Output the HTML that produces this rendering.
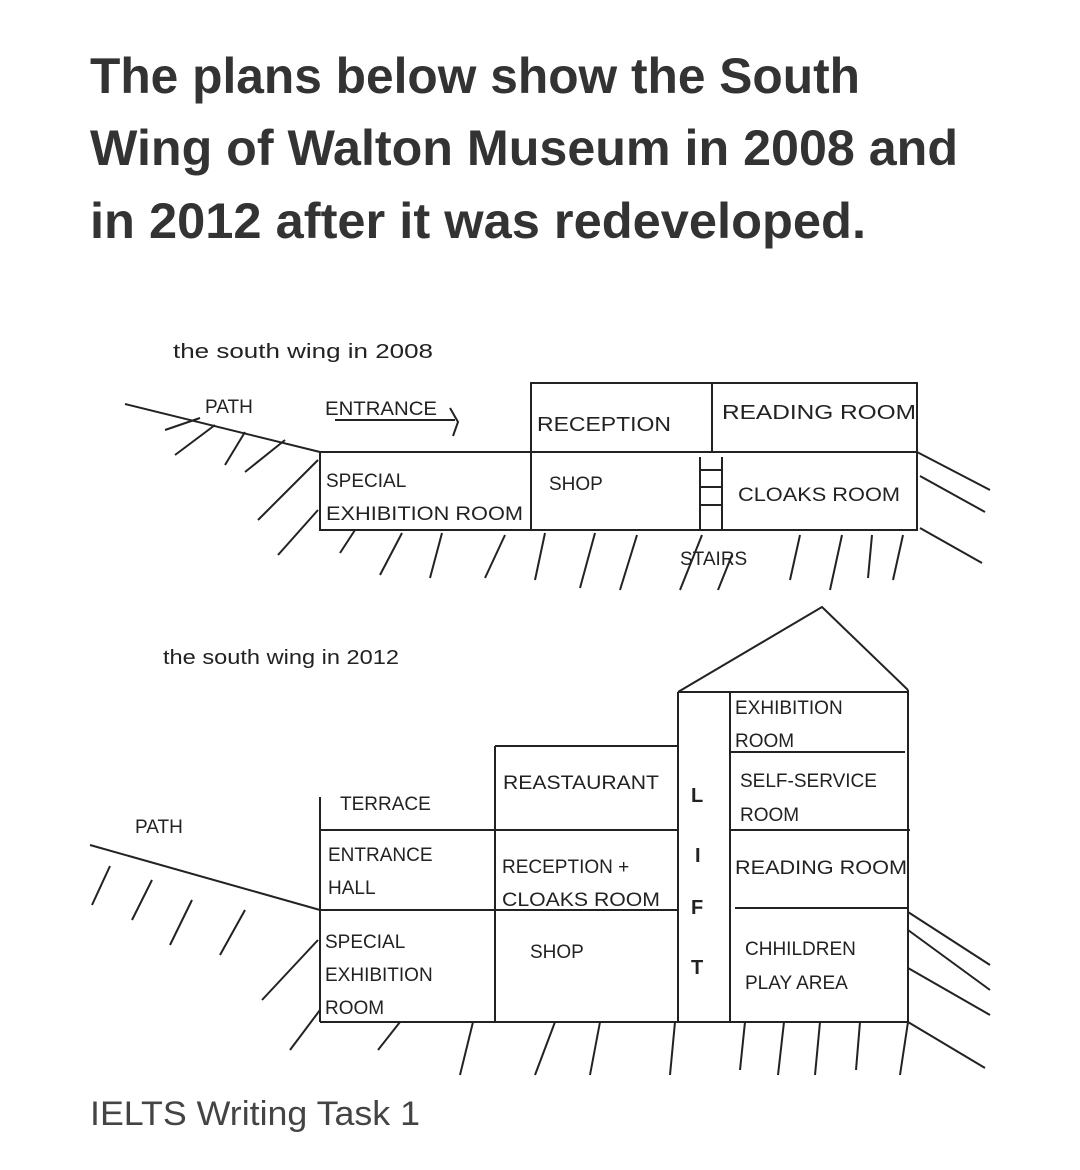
<!DOCTYPE html>
<html><head><meta charset="utf-8"><style>
html,body{margin:0;padding:0;background:#fff;}
svg{display:block}
.t{font-family:"Liberation Sans",sans-serif;font-weight:bold;font-size:50px;fill:#333}
.l{font-family:"Liberation Sans",sans-serif;font-size:19px;fill:#222}
.s{font-family:"Liberation Sans",sans-serif;font-size:20px;fill:#222}
line,polyline,polygon,rect{stroke:#222;stroke-width:2;fill:none}
</style></head><body>
<svg width="1080" height="1170" viewBox="0 0 1080 1170" xmlns="http://www.w3.org/2000/svg">
<text class="t" x="90" y="93" textLength="770" lengthAdjust="spacingAndGlyphs">The plans below show the South</text>
<text class="t" x="90" y="165" textLength="868" lengthAdjust="spacingAndGlyphs">Wing of Walton Museum in 2008 and</text>
<text class="t" x="90" y="238" textLength="776" lengthAdjust="spacingAndGlyphs">in 2012 after it was redeveloped.</text>

<text class="s" x="173" y="358" textLength="260" lengthAdjust="spacingAndGlyphs">the south wing in 2008</text>
<!-- 2008 -->
<rect x="531" y="383" width="386" height="69"/>
<line x1="712" y1="383" x2="712" y2="452"/>
<rect x="320" y="452" width="597" height="78"/>
<line x1="531" y1="452" x2="531" y2="530"/>
<line x1="700" y1="457" x2="700" y2="530"/>
<line x1="722" y1="457" x2="722" y2="530"/>
<line x1="700" y1="470" x2="722" y2="470"/><line x1="700" y1="487" x2="722" y2="487"/><line x1="700" y1="505" x2="722" y2="505"/>
<line x1="125" y1="404" x2="320" y2="452"/>
<line x1="335" y1="420" x2="455" y2="420"/>
<polyline points="450,408 458,422 453,436"/>
<g>
<line x1="165" y1="430" x2="200" y2="418"/><line x1="175" y1="455" x2="215" y2="425"/><line x1="225" y1="465" x2="245" y2="432"/><line x1="245" y1="472" x2="285" y2="440"/>
<line x1="258" y1="520" x2="318" y2="460"/><line x1="278" y1="555" x2="318" y2="510"/>
<line x1="340" y1="553" x2="355" y2="530"/><line x1="380" y1="575" x2="402" y2="533"/><line x1="430" y1="578" x2="442" y2="533"/><line x1="485" y1="578" x2="505" y2="535"/>
<line x1="535" y1="580" x2="545" y2="533"/><line x1="580" y1="588" x2="595" y2="533"/><line x1="620" y1="590" x2="637" y2="535"/><line x1="680" y1="590" x2="702" y2="535"/>
<line x1="718" y1="590" x2="732" y2="555"/><line x1="790" y1="580" x2="800" y2="535"/><line x1="830" y1="590" x2="842" y2="535"/><line x1="868" y1="578" x2="872" y2="535"/><line x1="893" y1="580" x2="903" y2="535"/>
<line x1="917" y1="452" x2="990" y2="490"/><line x1="920" y1="476" x2="985" y2="512"/><line x1="920" y1="528" x2="982" y2="563"/>
</g>
<text class="l" x="205" y="413">PATH</text>
<text class="l" x="325" y="415" textLength="112" lengthAdjust="spacingAndGlyphs">ENTRANCE</text>
<text class="s" x="537" y="431" textLength="134" lengthAdjust="spacingAndGlyphs">RECEPTION</text>
<text class="s" x="722" y="419" textLength="194" lengthAdjust="spacingAndGlyphs">READING ROOM</text>
<text class="l" x="326" y="487">SPECIAL</text>
<text class="l" x="326" y="520" textLength="197" lengthAdjust="spacingAndGlyphs">EXHIBITION ROOM</text>
<text class="l" x="549" y="490">SHOP</text>
<text class="l" x="738" y="501" textLength="162" lengthAdjust="spacingAndGlyphs">CLOAKS ROOM</text>
<text class="l" x="680" y="565" font-size="16">STAIRS</text>

<text class="s" x="163" y="664" textLength="236" lengthAdjust="spacingAndGlyphs">the south wing in 2012</text>
<!-- 2012 -->
<polyline points="678,692 822,607 908,690"/>
<line x1="678" y1="692" x2="908" y2="692"/>
<line x1="678" y1="692" x2="678" y2="1022"/>
<line x1="730" y1="692" x2="730" y2="1022"/>
<line x1="908" y1="690" x2="908" y2="1022"/>
<line x1="730" y1="752" x2="905" y2="752"/>
<line x1="730" y1="830" x2="910" y2="830"/>
<line x1="735" y1="908" x2="908" y2="908"/>
<line x1="495" y1="746" x2="678" y2="746"/>
<line x1="495" y1="746" x2="495" y2="1022"/>
<line x1="320" y1="830" x2="678" y2="830"/>
<line x1="320" y1="910" x2="678" y2="910"/>
<line x1="320" y1="797" x2="320" y2="1022"/>
<line x1="320" y1="1022" x2="908" y2="1022"/>
<line x1="90" y1="845" x2="320" y2="910"/>
<g>
<line x1="92" y1="905" x2="110" y2="866"/><line x1="132" y1="920" x2="152" y2="880"/><line x1="170" y1="945" x2="192" y2="900"/><line x1="220" y1="955" x2="245" y2="910"/>
<line x1="262" y1="1000" x2="318" y2="940"/><line x1="290" y1="1050" x2="320" y2="1010"/>
<line x1="378" y1="1050" x2="400" y2="1022"/><line x1="460" y1="1075" x2="473" y2="1022"/><line x1="535" y1="1075" x2="555" y2="1022"/>
<line x1="590" y1="1075" x2="600" y2="1022"/><line x1="670" y1="1075" x2="675" y2="1022"/><line x1="740" y1="1070" x2="745" y2="1022"/>
<line x1="778" y1="1075" x2="784" y2="1022"/><line x1="815" y1="1075" x2="820" y2="1022"/><line x1="856" y1="1070" x2="860" y2="1022"/><line x1="900" y1="1075" x2="908" y2="1022"/>
<line x1="908" y1="912" x2="990" y2="965"/><line x1="908" y1="930" x2="990" y2="990"/><line x1="908" y1="968" x2="990" y2="1015"/><line x1="908" y1="1022" x2="985" y2="1068"/>
</g>
<text class="l" x="340" y="810">TERRACE</text>
<text class="l" x="135" y="833">PATH</text>
<text class="l" x="328" y="861">ENTRANCE</text>
<text class="l" x="328" y="894">HALL</text>
<text class="l" x="325" y="948">SPECIAL</text>
<text class="l" x="325" y="981">EXHIBITION</text>
<text class="l" x="325" y="1014">ROOM</text>
<text class="l" x="503" y="789" textLength="156" lengthAdjust="spacingAndGlyphs">REASTAURANT</text>
<text class="l" x="502" y="873">RECEPTION +</text>
<text class="l" x="502" y="906" textLength="158" lengthAdjust="spacingAndGlyphs">CLOAKS ROOM</text>
<text class="l" x="530" y="958">SHOP</text>
<text class="s" x="691" y="802" font-size="26" font-weight="bold">L</text>
<text class="s" x="695" y="862" font-size="26" font-weight="bold">I</text>
<text class="s" x="691" y="914" font-size="26" font-weight="bold">F</text>
<text class="s" x="691" y="974" font-size="26" font-weight="bold">T</text>
<text class="l" x="735" y="714">EXHIBITION</text>
<text class="l" x="735" y="747">ROOM</text>
<text class="l" x="740" y="787">SELF-SERVICE</text>
<text class="l" x="740" y="821">ROOM</text>
<text class="l" x="735" y="874" textLength="172" lengthAdjust="spacingAndGlyphs">READING ROOM</text>
<text class="l" x="745" y="955">CHHILDREN</text>
<text class="l" x="745" y="989">PLAY AREA</text>

<text x="90" y="1125" font-family="Liberation Sans, sans-serif" font-size="34" fill="#444" textLength="330" lengthAdjust="spacingAndGlyphs">IELTS Writing Task 1</text>
</svg>
</body></html>
